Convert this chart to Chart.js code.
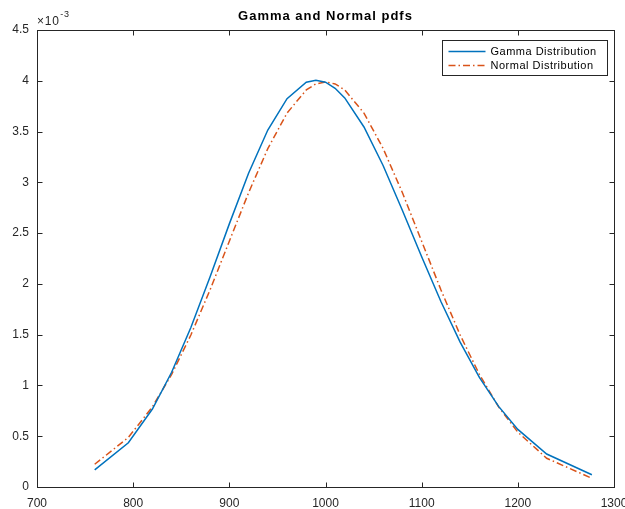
<!DOCTYPE html>
<html>
<head>
<meta charset="utf-8">
<title>Gamma and Normal pdfs</title>
<script src="https://cdn.jsdelivr.net/npm/chart.js@4/dist/chart.umd.min.js"></script>
<style>
  html, body { margin: 0; padding: 0; background: #ffffff; }
  #wrap { width: 625px; height: 509px; position: relative; }
</style>
</head>
<body>
<div id="wrap"><canvas id="chart" width="625" height="509"></canvas></div>
<script>
// Sample points (x) and the two densities, in units of 1e-3
const xValues = [760, 795, 820, 840, 860, 880, 900, 920, 940, 960, 980, 990, 1000,
                 1010, 1020, 1040, 1060, 1080, 1100, 1120, 1140, 1160, 1180, 1200, 1230, 1277];
const gammaPdf = [0.168, 0.436, 0.768, 1.130, 1.570, 2.070, 2.591, 3.089, 3.515, 3.824, 3.986, 4.006, 3.986,
                  3.926, 3.831, 3.545, 3.163, 2.723, 2.267, 1.826, 1.426, 1.079, 0.794, 0.567, 0.325, 0.121];
const normalPdf = [0.224, 0.488, 0.789, 1.109, 1.497, 1.942, 2.420, 2.897, 3.332, 3.682, 3.910, 3.969, 3.989,
                   3.969, 3.910, 3.682, 3.332, 2.897, 2.420, 1.942, 1.497, 1.109, 0.789, 0.540, 0.283, 0.086];
const seriesNames = ['Gamma Distribution', 'Normal Distribution'];
const xTicks = [700, 800, 900, 1000, 1100, 1200, 1300];
const yTicks = [0, 0.5, 1, 1.5, 2, 2.5, 3, 3.5, 4, 4.5];
const chartTitle = 'Gamma and Normal pdfs';
const yExponentText = '\u00d710';
const yExponentPower = '-3';

const FONT = "'Liberation Sans', Arial, Helvetica, sans-serif";
const AXIS_COLOR = '#262626';

const toPoints = (ys) => xValues.map((x, i) => ({ x: x, y: ys[i] }));

// Box, inward ticks, title, exponent label and legend, in MATLAB style
const matlabAxes = {
  id: 'matlabAxes',
  afterDraw(chart) {
    const { ctx, chartArea: a, scales } = chart;
    const xs = scales.x, ys = scales.y;
    const L = Math.round(a.left) + 0.5, R = Math.round(a.right) + 0.5;
    const T = Math.round(a.top) + 0.5, B = Math.round(a.bottom) + 0.5;
    const hasLS = 'letterSpacing' in ctx;
    ctx.save();
    ctx.strokeStyle = AXIS_COLOR;
    ctx.lineWidth = 1;
    ctx.strokeRect(L, T, R - L, B - T);
    const tl = 5;
    ctx.beginPath();
    xTicks.forEach(v => {
      const px = Math.round(xs.getPixelForValue(v)) + 0.5;
      ctx.moveTo(px, B); ctx.lineTo(px, B - tl);
      ctx.moveTo(px, T); ctx.lineTo(px, T + tl);
    });
    yTicks.forEach(v => {
      const py = Math.round(ys.getPixelForValue(v)) + 0.5;
      ctx.moveTo(L, py); ctx.lineTo(L + tl, py);
      ctx.moveTo(R, py); ctx.lineTo(R - tl, py);
    });
    ctx.stroke();

    // Title
    ctx.fillStyle = '#000000';
    ctx.font = 'bold 13px ' + FONT;
    ctx.textAlign = 'center';
    ctx.textBaseline = 'middle';
    if (hasLS) ctx.letterSpacing = '1px';
    ctx.fillText(chartTitle, (a.left + a.right) / 2, 16);
    if (hasLS) ctx.letterSpacing = '0px';

    // Exponent label of the y axis
    ctx.fillStyle = AXIS_COLOR;
    ctx.textAlign = 'left';
    ctx.textBaseline = 'alphabetic';
    ctx.font = '12px ' + FONT;
    if (hasLS) ctx.letterSpacing = '0.8px';
    ctx.fillText(yExponentText, a.left, 25);
    const w = ctx.measureText(yExponentText).width;
    ctx.font = '9px ' + FONT;
    ctx.fillText(yExponentPower, a.left + w + 0.5, 17);
    if (hasLS) ctx.letterSpacing = '0px';

    // Legend
    const bx = 442.5, by = 40.5, bw = 165, bh = 35;
    ctx.fillStyle = '#ffffff';
    ctx.fillRect(bx, by, bw, bh);
    ctx.strokeStyle = AXIS_COLOR;
    ctx.lineWidth = 1;
    ctx.strokeRect(bx, by, bw, bh);
    const rows = [51.5, 65.5];
    chart.data.datasets.forEach((ds, i) => {
      ctx.save();
      ctx.strokeStyle = ds.borderColor;
      ctx.lineWidth = ds.borderWidth;
      ctx.setLineDash(ds.borderDash || []);
      ctx.beginPath();
      ctx.moveTo(bx + 6, rows[i]);
      ctx.lineTo(bx + 43, rows[i]);
      ctx.stroke();
      ctx.restore();
      ctx.fillStyle = '#000000';
      ctx.font = '11px ' + FONT;
      if (hasLS) ctx.letterSpacing = '0.5px';
      ctx.textAlign = 'left';
      ctx.textBaseline = 'middle';
      ctx.fillText(ds.label, bx + 48, rows[i] + 0.5);
      if (hasLS) ctx.letterSpacing = '0px';
    });
    ctx.restore();
  }
};

new Chart(document.getElementById('chart'), {
  type: 'line',
  data: {
    datasets: [
      {
        label: seriesNames[0],
        data: toPoints(gammaPdf),
        borderColor: '#0072BD',
        borderWidth: 1.5,
        pointRadius: 0,
        tension: 0,
        fill: false
      },
      {
        label: seriesNames[1],
        data: toPoints(normalPdf),
        borderColor: '#D95319',
        borderWidth: 1.5,
        borderDash: [7, 3, 1.5, 3],
        pointRadius: 0,
        tension: 0,
        fill: false
      }
    ]
  },
  options: {
    responsive: false,
    animation: false,
    devicePixelRatio: 1,
    layout: { padding: { top: 30, right: 11, left: 0, bottom: 0 } },
    plugins: {
      legend: { display: false },
      title: { display: false },
      tooltip: { enabled: false }
    },
    scales: {
      x: {
        type: 'linear',
        min: 700,
        max: 1300,
        afterBuildTicks(scale) { scale.ticks = xTicks.map(v => ({ value: v })); },
        grid: { display: false },
        border: { display: false },
        ticks: {
          color: AXIS_COLOR,
          font: { family: FONT, size: 12 },
          padding: 1,
          maxRotation: 0,
          autoSkip: false,
          callback: (v) => String(v)
        },
        afterFit(scale) {
          scale.height = 22;
          scale.paddingLeft = 0;
          scale.paddingRight = 0;
        }
      },
      y: {
        type: 'linear',
        min: 0,
        max: 4.5,
        afterBuildTicks(scale) { scale.ticks = yTicks.map(v => ({ value: v })); },
        grid: { display: false },
        border: { display: false },
        ticks: {
          color: AXIS_COLOR,
          font: { family: FONT, size: 12 },
          padding: 0,
          autoSkip: false,
          callback: (v) => String(v)
        },
        afterFit(scale) {
          scale.width = 37;
          scale.paddingTop = 0;
          scale.paddingBottom = 0;
        }
      }
    }
  },
  plugins: [matlabAxes]
});
</script>
</body>
</html>
